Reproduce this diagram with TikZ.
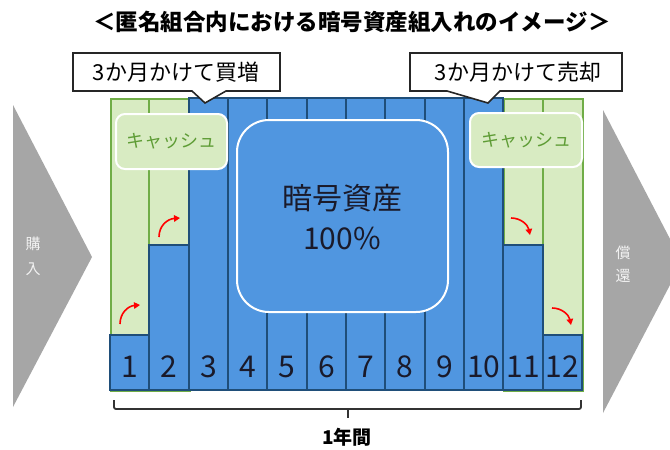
\documentclass[tikz,border=0pt]{standalone}
\usepackage{fontspec}
\setmainfont{Noto Sans CJK JP}
\usetikzlibrary{arrows.meta}
\definecolor{bluefill}{HTML}{5096E0}
\definecolor{blueline}{HTML}{1F4E79}
\definecolor{greenfill}{HTML}{D8EBC2}
\definecolor{greenline}{HTML}{70AD47}
\definecolor{greentext}{HTML}{5E9C35}
\definecolor{grayarrow}{HTML}{A6A6A6}
\definecolor{darktext}{HTML}{1A1A2A}
\tikzset{
  bluecol/.style={draw=blueline, fill=bluefill, line width=1.8pt},
  greencol/.style={draw=greenline, fill=greenfill, line width=1.8pt},
  cashbox/.style={draw=white, fill=greenfill, line width=2pt, rounded corners=9pt},
  callout/.style={draw=black!85, fill=white, line width=1.6pt},
  bigasset/.style={draw=white, fill=bluefill, line width=2pt, rounded corners=32pt},
  bigarrow/.style={fill=grayarrow, draw=none},
  redarrow/.style={draw=red, line width=1.6pt, -{Triangle[length=6pt,width=6.5pt]}},
  numlabel/.style={font=\fontsize{30}{32}\selectfont, text=darktext, inner sep=0pt},
  bracket/.style={draw=black!80, line width=1.8pt, rounded corners=2pt}
}
\begin{document}
\begin{tikzpicture}[x=1pt, y=-1pt]
\useasboundingbox (0,0) rectangle (670,450);
\clip (0,0) rectangle (670,450);
\fill[white] (0,0) rectangle (670,450);

% title
\node[font=\bfseries\fontsize{22.5}{25}\selectfont, inner sep=0pt] (title) at (352,22) {＜匿名組合内における暗号資産組入れのイメージ＞};

% grey process arrows
\path[bigarrow] (13,105) -- (92,257) -- (13,407) -- cycle;
\node[text=white!90!gray, font=\fontsize{15}{25}\selectfont, align=center, inner sep=0pt] (buy) at (33,256) {購\\入};
\path[bigarrow] (603,110) -- (682,262) -- (603,413) -- cycle;
\node[text=white!90!gray, font=\fontsize{15}{23}\selectfont, align=center, inner sep=0pt] (redeem) at (623,264) {償\\還};

% green cash columns
\node[greencol, minimum width=78.7pt, minimum height=292pt, inner sep=0pt, anchor=north west] (gl) at (110,98) {};
\node[greencol, minimum width=78.7pt, minimum height=292pt, inner sep=0pt, anchor=north west] (gr) at (503.3,98) {};
\draw[greenline, line width=1.8pt] (149.3,98) -- (149.3,335);
\draw[greenline, line width=1.8pt] (542.7,98) -- (542.7,335);

% blue columns
\draw[bluecol] (110,335) rectangle (149.3,390);
\draw[bluecol] (149.3,245) rectangle (188.7,390);
\foreach \i in {2,...,9} {
  \draw[bluecol] ({110+\i*39.333},98) rectangle ({110+(\i+1)*39.333},390);
}
\draw[bluecol] (503.3,245) rectangle (542.7,390);
\draw[bluecol] (542.7,335) rectangle (582,390);

% month numbers
\foreach \i in {1,...,12} {
  \node[numlabel] (m\i) at ({110+(\i-0.5)*39.333},367) {\i};
}

% big asset box
\draw[bigasset] (237,120) rectangle (448,312);
\node[font=\fontsize{30}{40}\selectfont, text=darktext, align=center, inner sep=0pt] (asset) at (342,217) {暗号資産\\100\%};

% cash boxes
\node[cashbox, minimum width=111pt, minimum height=55pt, anchor=north west, text=greentext, font=\fontsize{18}{20}\selectfont] (cashl) at (115,113) {キャッシュ};
\node[cashbox, minimum width=112pt, minimum height=54pt, anchor=north west, text=greentext, font=\fontsize{18}{20}\selectfont] (cashr) at (469,112) {キャッシュ};

% red arrows
\coordinate (a1s) at (120,324); \coordinate (a1e) at (140,305);
\coordinate (a2s) at (159,237); \coordinate (a2e) at (180,218);
\coordinate (a3s) at (511,218); \coordinate (a3e) at (530,235);
\coordinate (a4s) at (552,308); \coordinate (a4e) at (571,325);
\draw[redarrow] (a1s) .. controls (120,313) and (128,306) .. (a1e);
\draw[redarrow] (a2s) .. controls (159,226) and (167,219) .. (a2e);
\draw[redarrow] (a3s) .. controls (521,218) and (528,225) .. (a3e);
\draw[redarrow] (a4s) .. controls (562,308) and (569,315) .. (a4e);

% callouts
\draw[callout] (73,53) -- (280,53) -- (280,91) -- (226,91) -- (205,103) -- (192,91) -- (73,91) -- cycle;
\node[font=\fontsize{22}{24}\selectfont, inner sep=0pt] (buymore) at (176,72) {3か月かけて買増};
\draw[callout] (410,53) -- (622,53) -- (622,91) -- (500,91) -- (488,103) -- (447,91) -- (410,91) -- cycle;
\node[font=\fontsize{22}{24}\selectfont, inner sep=0pt] (sell) at (518,72) {3か月かけて売却};

% bracket
\coordinate (bl) at (114,400); \coordinate (br) at (581,400);
\coordinate (bm) at (348,409); \coordinate (bt) at (348,418);
\draw[bracket] (bl) |- (bm) -| (br);
\draw[bracket] (bm) -- (bt);
\node[font=\bfseries\fontsize{19}{21}\selectfont, inner sep=0pt] (year) at (347,437) {1年間};
\end{tikzpicture}
\end{document}
